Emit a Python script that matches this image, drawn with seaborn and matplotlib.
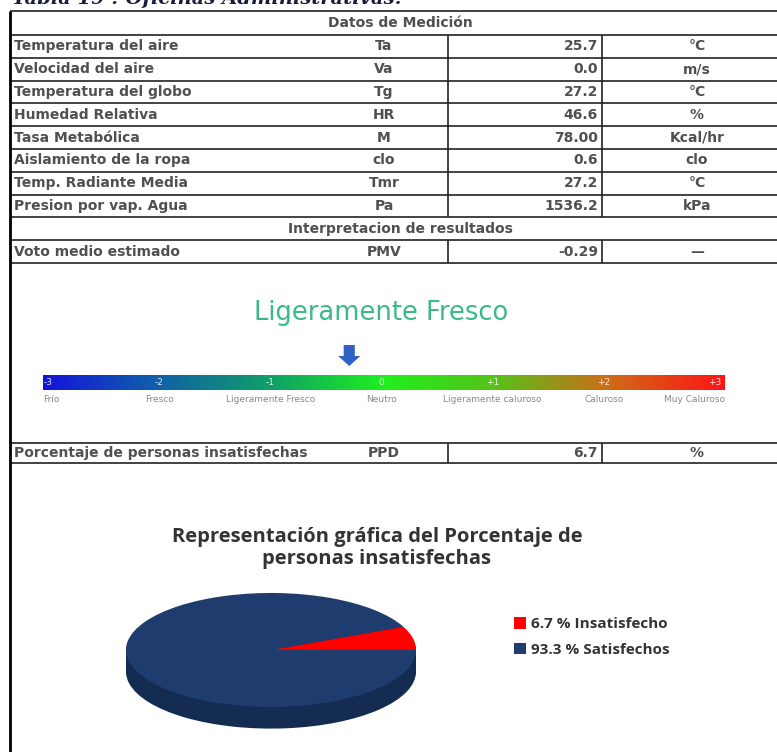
import numpy as np
import matplotlib
matplotlib.use("Agg")
import matplotlib.pyplot as plt
import seaborn as sns

# ---- data ----
parametros = ["Temperatura del aire", "Velocidad del aire", "Temperatura del globo",
              "Humedad Relativa", "Tasa Metabólica", "Aislamiento de la ropa",
              "Temp. Radiante Media", "Presion por vap. Agua"]
simbolos = ["Ta", "Va", "Tg", "HR", "M", "clo", "Tmr", "Pa"]
valores = ["25.7", "0.0", "27.2", "46.6", "78.00", "0.6", "27.2", "1536.2"]
unidades = ["°C", "m/s", "°C", "%", "Kcal/hr", "clo", "°C", "kPa"]

pmv_valor = -0.29
ppd_valor = 6.7
sensacion = "Ligeramente Fresco"

escala_ticks = [-3, -2, -1, 0, 1, 2, 3]
escala_tick_txt = ["-3", "-2", "-1", "0", "+1", "+2", "+3"]
escala_nombres = ["Frío", "Fresco", "Ligeramente Fresco", "Neutro",
                  "Ligeramente caluroso", "Caluroso", "Muy Caluroso"]
escala_colores = ["#1414dc", "#1060a8", "#10a068", "#1ef01e", "#58c018", "#d06a18", "#ff1414"]

pie_valores = [ppd_valor, 100 - ppd_valor]
pie_etiquetas = [f"{ppd_valor} % Insatisfecho", f"{100 - ppd_valor:.1f} % Satisfechos"]
pie_colores = ["#ff0000", "#1f3c6e"]
pie_lados = ["#b00000", "#142b52"]

# ---- figure in pixel coordinates ----
W, H = 777, 752
sns.set_theme(style="white")
plt.rcParams['font.family'] = ['DejaVu Sans']

fig = plt.figure(figsize=(W / 100, H / 100), dpi=100)
fig.patch.set_facecolor('white')


def px_axes(x0, y0, x1, y1):
    a = fig.add_axes([x0 / W, 1 - y1 / H, (x1 - x0) / W, (y1 - y0) / H])
    a.patch.set_alpha(0)
    return a


ax = px_axes(0, 0, W, H)
ax.set_xlim(0, W)
ax.set_ylim(H, 0)
ax.axis('off')

# caption cut at the top of the screenshot
ax.text(12, 4.5, "Tabla 19 : Oficinas Administrativas.", family='DejaVu Serif',
        fontstyle='italic', fontweight='bold', fontsize=14, color='#1a1a3a', va='baseline')

# ---- table grid ----
top, hdr, pitch = 11, 35, 22.8
x_left, x_c1, x_c2 = 10, 448, 602
lc = '#222222'
filas = [hdr + pitch * i for i in range(len(parametros) + 1)]
interp_bot = filas[-1] + pitch
voto_bot = interp_bot + pitch
ppd_top, ppd_bot = 443, 463

ax.hlines([top] + filas + [interp_bot, voto_bot, ppd_top, ppd_bot], x_left, W, color=lc, lw=1.2)
for y0, y1 in [(filas[0], filas[-1]), (interp_bot, voto_bot), (ppd_top, ppd_bot)]:
    ax.vlines([x_c1, x_c2], y0, y1, color=lc, lw=1.2)
ax.vlines(x_left, top, H, color='black', lw=2)

tfont = dict(family='DejaVu Sans', fontsize=10, fontweight='bold', color='#505050', va='center')


def fila(yc, etiqueta, simbolo, valor, unidad):
    ax.text(14, yc, etiqueta, ha='left', **tfont)
    ax.text(384, yc, simbolo, ha='center', **tfont)
    ax.text(598, yc, valor, ha='right', **tfont)
    ax.text(697, yc, unidad, ha='center', **tfont)


ax.text(400, (top + hdr) / 2, "Datos de Medición", ha='center', **tfont)
for i in range(len(parametros)):
    fila(filas[i] + pitch / 2, parametros[i], simbolos[i], valores[i], unidades[i])
ax.text(400, filas[-1] + pitch / 2, "Interpretacion de resultados", ha='center', **tfont)
fila(interp_bot + pitch / 2, "Voto medio estimado", "PMV", f"{pmv_valor:.2f}", "—")
fila((ppd_top + ppd_bot) / 2, "Porcentaje de personas insatisfechas", "PPD", f"{ppd_valor}", "%")

# ---- PMV scale ----
x_min, x_max = -3.044, 3.089
sc = px_axes(43, 290, 725, 420)
cmap = sns.blend_palette(escala_colores, as_cmap=True)
sc.imshow(np.linspace(0, 1, 256)[None, :], cmap=cmap, aspect='auto',
          extent=(x_min, x_max, 390, 375))
sc.set_xlim(x_min, x_max)
sc.set_ylim(420, 290)
sc.axis('off')
for t, s in zip(escala_ticks, escala_tick_txt):
    sc.text(t, 382.5, s, color='white', alpha=0.85, fontsize=6.5, ha='center', va='center')
for t, s in zip(escala_ticks, escala_nombres):
    if t == escala_ticks[0]:
        sc.text(x_min, 399, s, color='#888888', fontsize=6.5, ha='left', va='center')
    elif t == escala_ticks[-1]:
        sc.text(x_max, 399, s, color='#888888', fontsize=6.5, ha='right', va='center')
    else:
        sc.text(t, 399, s, color='#888888', fontsize=6.5, ha='center', va='center')
sc.text(0, 313, sensacion, color='#3cb98a', fontsize=18.5, ha='center', va='center', family='DejaVu Sans')
sc.arrow(pmv_valor, 345, 0, 21, width=0.1, head_width=0.2, head_length=10,
         length_includes_head=True, color='#2f62c4', ec='none')

# ---- pie with fake depth ----
ax.text(377, 548, "Representación gráfica del Porcentaje de\npersonas insatisfechas",
        ha='center', va='center', family='Open Sans', fontweight='bold', fontsize=14.5,
        color='#333333', linespacing=1.1)

pa = px_axes(116, 585, 426, 740)
for d in np.linspace(0.38, 0.02, 12):
    pa.pie(pie_valores, colors=pie_lados, startangle=0, counterclock=True,
           center=(0, -d), wedgeprops=dict(linewidth=0))
wedges, _ = pa.pie(pie_valores, colors=pie_colores, startangle=0, counterclock=True,
                   wedgeprops=dict(linewidth=0))
pa.set_aspect('auto')
pa.set_xlim(-1.069, 1.069)
pa.set_ylim(-1.58, 1.14)
pa.axis('off')

pa.legend(wedges, pie_etiquetas, loc='center left', bbox_to_anchor=(500 / W, 1 - 637 / H),
          bbox_transform=fig.transFigure, frameon=False, handlelength=0.8, handleheight=0.8,
          handletextpad=0.3, labelspacing=0.75, labelcolor='#333333',
          prop=dict(family='Open Sans', weight='bold', size=11))

fig.savefig('out.png', dpi=100, facecolor='white')
